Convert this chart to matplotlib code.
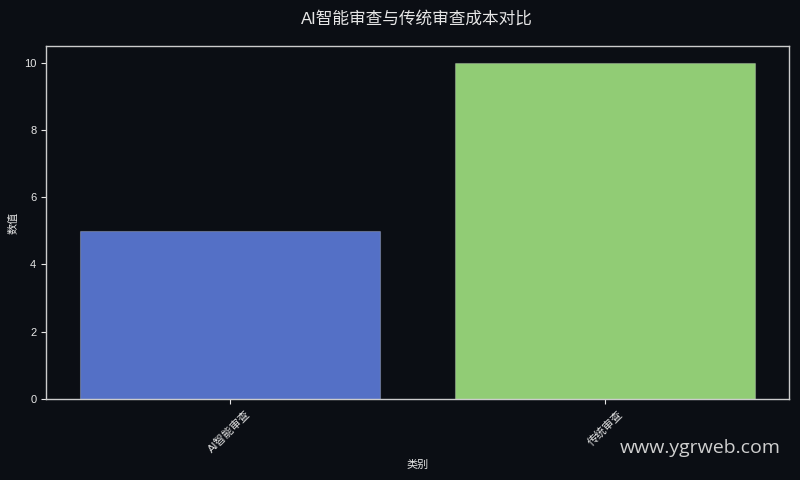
import matplotlib
matplotlib.use("Agg")
import matplotlib.pyplot as plt

plt.rcParams['font.family'] = ['Liberation Sans', 'Noto Sans CJK SC', 'DejaVu Sans']

categories = ["AI智能审查", "传统审查"]
values = [5, 10]
colors = ["#5470c6", "#91cc75"]

bg = "#0b0e14"
fg = "#e6e6e6"

fig = plt.figure(figsize=(8, 4.8), dpi=100, facecolor=bg)
ax = fig.add_axes([0.0575, 0.169, 0.9285, 0.735], facecolor=bg)

ax.bar(categories, values, color=colors, width=0.8, edgecolor=(1, 1, 1, 0.25), linewidth=0.8)
ax.set_ylim(0, 10.5)

for s in ax.spines.values():
    s.set_color("#cccccc")
    s.set_linewidth(1.0)

ax.tick_params(axis='both', colors=fg, labelsize=8, length=3.5)
for lbl in ax.get_xticklabels():
    lbl.set_rotation(45)
ax.set_xlabel("类别", color=fg, fontsize=8)
ax.set_ylabel("数值", color=fg, fontsize=8)

ax.set_title("AI智能审查与传统审查成本对比", color=fg, fontsize=12, pad=16)

fig.text(0.976, 0.048, "www.ygrweb.com", color="#cfcfcf", fontsize=14, ha="right", va="bottom",
         family=["Open Sans", "DejaVu Sans"])

fig.savefig("out.png", dpi=100, facecolor=bg)
